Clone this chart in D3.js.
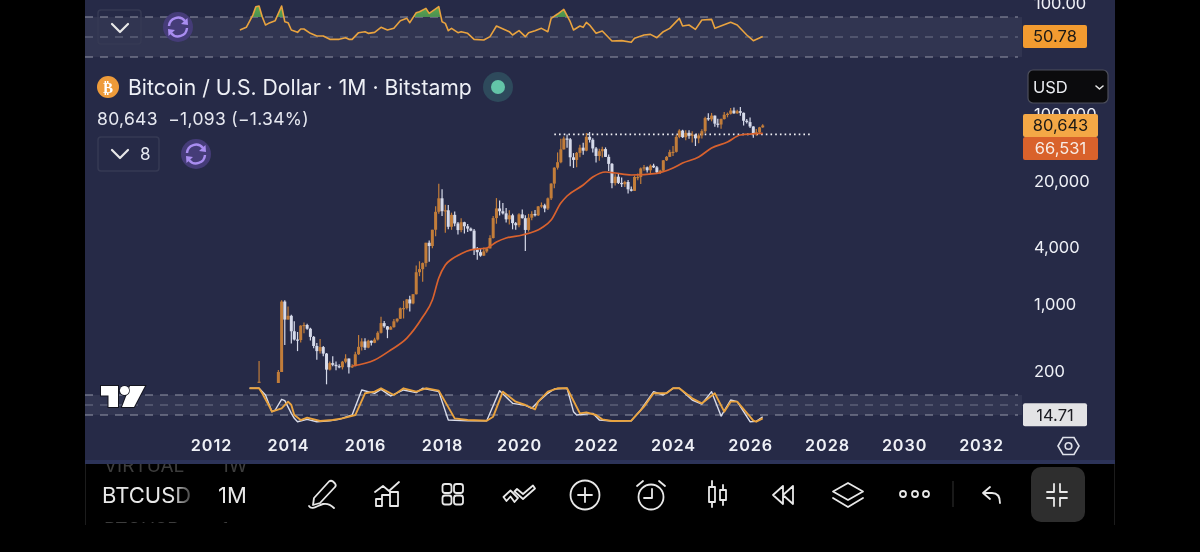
<!DOCTYPE html>
<html>
<head>
<meta charset="utf-8">
<script src="https://cdn.jsdelivr.net/npm/d3@7"></script>
<style>
    html, body { margin: 0; padding: 0; background: #000; }
    svg { display: block; font-family: Inter, "Liberation Sans", sans-serif; filter: blur(0.3px); }
    .axis path, .axis line { display: none; }
    .icon { fill: none; stroke: #e8e8e8; stroke-width: 1.8; stroke-linecap: round; stroke-linejoin: round; }
</style>
</head>
<body>
<svg id="chart" width="1200" height="552"></svg>
<script>
// monthly bars, price values
var candleMonths = [
    '2013-04','2013-10','2013-11','2013-12',
    '2014-01','2014-02','2014-03','2014-04','2014-05','2014-06','2014-07','2014-08','2014-09','2014-10','2014-11','2014-12',
    '2015-01','2015-02','2015-03','2015-04','2015-05','2015-06','2015-07','2015-08','2015-09','2015-10','2015-11','2015-12',
    '2016-01','2016-02','2016-03','2016-04','2016-05','2016-06','2016-07','2016-08','2016-09','2016-10','2016-11','2016-12',
    '2017-01','2017-02','2017-03','2017-04','2017-05','2017-06','2017-07','2017-08','2017-09','2017-10','2017-11','2017-12',
    '2018-01','2018-02','2018-03','2018-04','2018-05','2018-06','2018-07','2018-08','2018-09','2018-10','2018-11','2018-12',
    '2019-01','2019-02','2019-03','2019-04','2019-05','2019-06','2019-07','2019-08','2019-09','2019-10','2019-11','2019-12',
    '2020-01','2020-02','2020-03','2020-04','2020-05','2020-06','2020-07','2020-08','2020-09','2020-10','2020-11','2020-12',
    '2021-01','2021-02','2021-03','2021-04','2021-05','2021-06','2021-07','2021-08','2021-09','2021-10','2021-11','2021-12',
    '2022-01','2022-02','2022-03','2022-04','2022-05','2022-06','2022-07','2022-08','2022-09','2022-10','2022-11','2022-12',
    '2023-01','2023-02','2023-03','2023-04','2023-05','2023-06','2023-07','2023-08','2023-09','2023-10','2023-11','2023-12',
    '2024-01','2024-02','2024-03','2024-04','2024-05','2024-06','2024-07','2024-08','2024-09','2024-10','2024-11','2024-12',
    '2025-01','2025-02','2025-03','2025-04','2025-05','2025-06','2025-07','2025-08','2025-09','2025-10','2025-11','2025-12',
    '2026-01','2026-02','2026-03','2026-04','2026-05'
];
var candleOpen = [
    161,157,205,1130,
    730,800,550,450,445,630,640,585,480,385,340,375,
    320,217,254,244,236,230,263,284,230,236,315,377,
    430,370,437,416,450,530,670,620,572,608,700,745,
    960,965,1190,1080,1350,2300,2480,2870,4700,4340,6440,9950,
    13800,10100,10320,6920,9240,7500,6390,7730,7010,6625,6300,4020,
    3740,3440,3810,4100,5270,8550,10800,10080,9580,8290,9150,7560,
    7190,9350,8525,6410,8620,9450,9135,11340,11650,10780,13800,19700,
    29000,33100,45200,58800,57700,37300,35000,41500,47100,43800,61300,57000,
    46200,38500,43200,45500,37650,31800,19950,23300,20050,19420,20490,17160,
    16540,23130,23140,28470,29250,27210,30470,29230,25930,26970,34650,37720,
    42270,42580,61130,71280,60670,67490,62670,64620,58970,63330,70290,96400,
    93430,102400,84350,82550,94170,104600,107100,115800,108250,114050,109600,90400,
    87500,78700,66900,68200,77000
];
var candleHigh = [
    267,215,1163,1163,
    1000,820,700,540,635,680,660,600,490,415,455,385,
    325,265,300,265,247,268,315,285,247,334,502,465,
    465,448,440,470,550,780,705,625,625,740,755,980,
    1150,1200,1300,1350,2700,3000,2920,4700,4970,6450,11400,19666,
    17200,11800,11700,9750,10000,7770,8500,7800,7400,6800,6550,4230,
    4070,4200,4100,5620,9000,13880,13100,12320,10900,10350,9500,7750,
    9580,10500,9180,9460,10080,10400,11450,12480,12080,14100,19900,29300,
    41950,58350,61780,64890,59500,41300,42400,50500,52900,67000,69000,59100,
    47900,45800,48200,47400,40000,32400,24700,25200,22800,21100,21450,18400,
    23950,25250,29200,31000,29800,31400,31800,30200,27500,35000,38450,44700,
    48950,64000,73800,72700,71950,71950,70000,65600,66500,73600,99800,108300,
    109300,102800,95000,95500,112000,110400,123200,124500,117900,126200,110600,94600,
    97900,79300,74000,78000,83000
];
var candleLow = [
    161,157,205,395,
    730,410,440,340,420,525,570,440,365,275,320,300,
    152,212,235,214,225,218,253,198,226,235,310,345,
    350,365,390,412,440,520,600,465,570,600,680,740,
    750,930,890,1060,1340,2090,1830,2620,2970,4120,5510,9500,
    9000,6000,6500,6430,7000,5750,6070,5880,6100,6200,3500,3120,
    3350,3400,3690,4080,5200,7450,9100,9320,7700,7300,6510,6430,
    6850,8450,3850,6150,8120,8900,8980,10980,9850,10370,13220,17600,
    27700,32300,44950,46950,30000,28800,29300,37400,39600,43300,53300,42000,
    32900,34300,37200,37600,26700,17600,18800,19550,18150,18200,15500,16300,
    16500,21400,19550,26950,25850,24800,28850,25300,24900,26550,34100,37600,
    38500,41900,59100,59600,56500,58400,53500,49000,52500,58900,66800,90500,
    89200,78200,76600,74400,93400,98200,105100,107300,107300,102000,80600,84400,
    75700,60000,63000,65500,76500
];
var candleClose = [
    162,205,1130,730,
    800,550,450,445,630,640,585,480,385,340,375,320,
    217,254,244,236,230,263,284,230,236,315,377,430,
    370,437,416,450,530,670,620,572,608,700,745,960,
    965,1190,1080,1350,2300,2480,2870,4700,4340,6440,9950,13800,
    10100,10320,6920,9240,7500,6390,7730,7010,6625,6300,4020,3740,
    3440,3810,4100,5270,8550,10800,10080,9580,8290,9150,7560,7190,
    9350,8525,6410,8620,9450,9135,11340,11650,10780,13800,19700,29000,
    33100,45200,58800,57700,37300,35000,41500,47100,43800,61300,57000,46200,
    38500,43200,45500,37650,31800,19950,23300,20050,19420,20490,17160,16540,
    23130,23140,28470,29250,27210,30470,29230,25930,26970,34650,37720,42270,
    42580,61130,71280,60670,67490,62670,64620,58970,63330,70290,96400,93430,
    102400,84350,82550,94170,104600,107100,115800,108250,114050,109600,90400,87500,
    78700,66900,68200,77000,80643
];

// moving average, read at the bends of the curve
var maMonths = ['2015-09','2016-04','2016-09','2017-02','2017-07','2017-10','2017-12','2018-02','2018-04','2018-07','2018-10','2019-03','2019-06','2019-09','2020-02','2020-08','2020-11','2021-02','2021-04','2021-09','2021-12','2022-04','2022-07','2022-12','2023-08','2024-01','2024-04','2024-09','2025-01','2025-06','2025-10','2026-05'];
var maValues = [237,274,349,466,777,1173,2000,2742,3150,3600,3950,4140,4786,5272,5672,6716,8162,12320,14600,19060,23120,26120,25480,24280,25300,28760,32460,37560,46730,54020,64000,66531];

// top pane RSI
var rsiMonths = ['2012-10','2012-12','2013-02','2013-03','2013-04','2013-05','2013-06','2013-07','2013-09','2013-11','2013-12','2014-01','2014-02','2014-04','2014-05','2014-06','2014-08','2014-10','2014-12','2015-02','2015-05','2015-07','2015-08','2015-09','2015-11','2016-01','2016-02','2016-04','2016-06','2016-08','2016-10','2016-12','2017-02','2017-03','2017-05','2017-06','2017-08','2017-09','2017-12','2018-01','2018-02','2018-03','2018-04','2018-06','2018-07','2018-09','2018-11','2019-02','2019-04','2019-06','2019-10','2019-11','2020-01','2020-03','2020-04','2020-06','2020-08','2020-10','2020-11','2021-01','2021-03','2021-05','2021-06','2021-08','2021-09','2021-10','2021-11','2022-01','2022-03','2022-06','2022-09','2022-12','2023-01','2023-04','2023-06','2023-08','2023-10','2023-12','2024-03','2024-04','2024-06','2024-08','2024-10','2025-01','2025-02','2025-07','2025-09','2025-12','2026-02','2026-05'];
var rsiValues = [60.5,64.5,83,95.5,96.5,80.5,68,70.5,74.5,96.5,73,71.5,60.5,57,62,62,55.5,51.5,51.5,46.5,46.5,49,46.5,46.5,56.5,58,55.5,57,64.5,60.5,63,74.5,78,71.5,86.5,88,93,85.5,95.5,73,70.5,59.5,63,56.5,58,55.5,46.5,45.5,50.5,66.5,58,53,59.5,50.5,56.5,59.5,63,58,78,84.5,91.5,73,60.5,66.5,64.5,72,68,55.5,59,44,44.5,42,48,53,54,49,58,63,78,66.5,68,61.5,75.5,76.5,63,72,68,53,44.5,50.78];

// bottom pane stochastic
var kMonths = ['2013-01','2013-04','2013-06','2013-08','2013-09','2013-11','2013-12','2014-02','2014-03','2014-04','2014-07','2014-10','2015-02','2015-05','2015-09','2015-12','2016-04','2016-06','2016-09','2017-01','2017-05','2017-07','2017-12','2018-03','2018-09','2019-03','2019-07','2019-11','2020-03','2020-05','2020-07','2020-10','2020-12','2021-04','2021-06','2021-07','2021-12','2022-02','2022-06','2022-12','2023-03','2023-07','2023-10','2024-01','2024-03','2024-07','2024-10','2025-01','2025-04','2025-07','2025-09','2026-01','2026-03','2026-05'];
var kValues = [100,100,80,30,35,67,63,25,10,0,7,0,3,7,20,95,85,97,77,95,87,100,90,5,3,3,93,55,49,40,60,85,98,100,30,20,25,5,2,3,35,90,80,100,100,65,53,90,17,65,60,0,1,14.71];
var dMonths = ['2013-01','2013-04','2013-05','2013-07','2013-08','2013-11','2014-01','2014-02','2014-03','2014-05','2014-07','2014-11','2015-03','2015-06','2015-10','2016-01','2016-04','2016-06','2016-10','2017-01','2017-05','2017-08','2017-12','2018-05','2018-09','2019-03','2019-05','2019-08','2019-12','2020-03','2020-06','2020-07','2020-10','2021-01','2021-04','2021-08','2021-10','2022-01','2022-03','2022-06','2022-12','2023-04','2023-07','2023-11','2024-01','2024-03','2024-07','2024-10','2025-02','2025-05','2025-07','2025-09','2026-02','2026-03','2026-05'];
var dValues = [100,100,85,50,30,40,60,50,20,5,12,2,5,10,20,85,90,100,80,100,90,100,93,10,5,3,15,90,60,50,37,60,90,100,100,25,28,20,7,2,3,45,85,85,100,100,70,55,85,30,60,60,3,0,10];

var priceTicks = [200, 1000, 4000, 20000, 100000];
var yearTicks = ['2012','2014','2016','2018','2020','2022','2024','2026','2028','2030','2032'];
var resistance = 65000;
var resistanceMonths = ['2020-12', '2027-08'];
var lastPrice = 80643;
var lastMa = 66531;
var lastRsi = 50.78;
var lastStoch = 14.71;

var svg = d3.select('#chart');
var parseMonth = d3.timeParse('%Y-%m');
var parseYear = d3.timeParse('%Y');

var bg = '#262a47';
var upColor = '#c27d3a';
var downColor = '#d6daea';
var rsiColor = '#e9a33f';

var x = d3.scaleTime().domain([parseYear('2012'), parseYear('2032')]).range([211, 981]);
var y = d3.scaleLog().domain([200, 20000]).range([373, 183]);
var rsiY = d3.scaleLinear().domain([50, 100]).range([37, 3.7]);
var stochY = d3.scaleLinear().domain([0, 100]).range([421.7, 388.3]);

var candles = candleMonths.map(function (m, i) {
    return { date: parseMonth(m), open: candleOpen[i], high: candleHigh[i], low: candleLow[i], close: candleClose[i] };
});
function zipSeries(months, values) {
    return months.map(function (m, i) {
        return { date: parseMonth(m), value: values[i] };
    });
}

// panel background and the black phone bezel
svg.append('rect').attr('width', 1200).attr('height', 552).attr('fill', '#000');
svg.append('rect').attr('x', 85).attr('width', 1030).attr('height', 464).attr('fill', bg);
svg.append('rect').attr('x', 85).attr('y', 460).attr('width', 1030).attr('height', 4).attr('fill', '#2c3358');

function drawBand(scale, hi, mid, lo) {
    svg.append('rect')
        .attr('x', 85).attr('width', 937)
        .attr('y', scale(hi)).attr('height', scale(lo) - scale(hi))
        .attr('fill', '#ffffff').attr('opacity', 0.055);
    [hi, mid, lo].forEach(function (v) {
        svg.append('line')
            .attr('x1', 85).attr('x2', 1018)
            .attr('y1', scale(v)).attr('y2', scale(v))
            .attr('stroke', '#a6a8ba')
            .attr('stroke-opacity', v === mid ? 0.55 : 0.85)
            .attr('stroke-width', 1.2)
            .attr('stroke-dasharray', '8 7');
    });
}
drawBand(rsiY, 80, 50, 20);
drawBand(stochY, 80, 50, 20);

// RSI pane
var rsiData = zipSeries(rsiMonths, rsiValues);
var defs = svg.append('defs');
var grad = defs.append('linearGradient').attr('id', 'rsi-green').attr('x1', 0).attr('x2', 0).attr('y1', 0).attr('y2', 1);
grad.append('stop').attr('offset', '0%').attr('stop-color', '#5fae4e');
grad.append('stop').attr('offset', '100%').attr('stop-color', '#2f7a5c').attr('stop-opacity', 0.55);
defs.append('clipPath').attr('id', 'rsi-clip').append('rect')
    .attr('x', 85).attr('width', 937).attr('y', 0).attr('height', rsiY(80));
defs.append('clipPath').attr('id', 'row-clip').append('rect')
    .attr('x', 85).attr('width', 200).attr('y', 464).attr('height', 59);
var fade = defs.append('linearGradient').attr('id', 'name-fade');
fade.append('stop').attr('offset', '0%').attr('stop-color', '#000').attr('stop-opacity', 0);
fade.append('stop').attr('offset', '100%').attr('stop-color', '#000').attr('stop-opacity', 0.85);

svg.append('path')
    .datum(rsiData)
    .attr('clip-path', 'url(#rsi-clip)')
    .attr('fill', 'url(#rsi-green)')
    .attr('d', d3.area()
        .x(function (d) { return x(d.date); })
        .y0(rsiY(80))
        .y1(function (d) { return rsiY(d.value); }));
svg.append('path')
    .datum(rsiData)
    .attr('fill', 'none')
    .attr('stroke', rsiColor)
    .attr('stroke-width', 1.6)
    .attr('stroke-linejoin', 'round')
    .attr('d', d3.line()
        .x(function (d) { return x(d.date); })
        .y(function (d) { return rsiY(d.value); }));

// resistance line
svg.append('line')
    .attr('x1', x(parseMonth(resistanceMonths[0])))
    .attr('x2', x(parseMonth(resistanceMonths[1])))
    .attr('y1', y(resistance)).attr('y2', y(resistance))
    .attr('stroke', '#f2f2f6')
    .attr('stroke-width', 1.6)
    .attr('stroke-dasharray', '1.6 3.1');

// candles
var candleWidth = 3;
svg.append('g').selectAll('line')
    .data(candles)
    .enter()
    .append('line')
    .attr('x1', function (d) { return x(d.date); })
    .attr('x2', function (d) { return x(d.date); })
    .attr('y1', function (d) { return y(d.high); })
    .attr('y2', function (d) { return y(d.low); })
    .attr('stroke', function (d) { return d.close >= d.open ? upColor : downColor; })
    .attr('stroke-width', 1.2);
svg.append('g').selectAll('rect')
    .data(candles)
    .enter()
    .append('rect')
    .attr('x', function (d) { return x(d.date) - candleWidth / 2; })
    .attr('width', candleWidth)
    .attr('y', function (d) { return y(Math.max(d.open, d.close)); })
    .attr('height', function (d) { return Math.max(1.2, Math.abs(y(d.open) - y(d.close))); })
    .attr('fill', function (d) { return d.close >= d.open ? upColor : downColor; });

// moving average
svg.append('path')
    .datum(zipSeries(maMonths, maValues))
    .attr('fill', 'none')
    .attr('stroke', '#d9622e')
    .attr('stroke-width', 1.7)
    .attr('d', d3.line()
        .curve(d3.curveMonotoneX)
        .x(function (d) { return x(d.date); })
        .y(function (d) { return y(d.value); }));

// stochastic pane
function drawStoch(months, values, color, width) {
    svg.append('path')
        .datum(zipSeries(months, values))
        .attr('fill', 'none')
        .attr('stroke', color)
        .attr('stroke-width', width)
        .attr('stroke-linejoin', 'round')
        .attr('d', d3.line()
            .x(function (d) { return x(d.date); })
            .y(function (d) { return stochY(d.value); }));
}
drawStoch(kMonths, kValues, '#d9dcea', 1.4);
drawStoch(dMonths, dValues, rsiColor, 1.9);

// axes
var xAxis = svg.append('g')
    .attr('class', 'axis')
    .attr('transform', 'translate(0,439)')
    .call(d3.axisBottom(x)
        .tickValues(yearTicks.map(function (t) { return parseYear(t); }))
        .tickFormat(d3.timeFormat('%Y'))
        .tickSize(0).tickPadding(0));
xAxis.selectAll('text')
    .attr('fill', '#eef0f6').attr('font-size', 16.2).attr('font-weight', 600)
    .attr('letter-spacing', 0.9).attr('font-family', 'Inter');

var yAxis = svg.append('g')
    .attr('class', 'axis')
    .attr('transform', 'translate(1034,-2)')
    .call(d3.axisRight(y)
        .tickValues(priceTicks)
        .tickFormat(d3.format(','))
        .tickSize(0).tickPadding(0));
yAxis.selectAll('text')
    .attr('fill', '#eef0f6').attr('font-size', 16.5).attr('font-family', 'Inter');

var rsiAxis = svg.append('g')
    .attr('class', 'axis')
    .attr('transform', 'translate(1034,0)')
    .call(d3.axisRight(rsiY)
        .tickValues([100])
        .tickFormat(d3.format('.2f'))
        .tickSize(0).tickPadding(0));
rsiAxis.selectAll('text')
    .attr('fill', '#eef0f6').attr('font-size', 16.5).attr('font-family', 'Inter');

// last value tags
function tag(left, width, cy, fill, color, label) {
    svg.append('rect')
        .attr('x', left).attr('y', cy - 11.5)
        .attr('width', width).attr('height', 23)
        .attr('rx', 2).attr('fill', fill);
    svg.append('text')
        .attr('x', left + width / 2).attr('y', cy + 6)
        .attr('text-anchor', 'middle')
        .attr('font-size', 16.5)
        .attr('fill', color)
        .text(label);
}
tag(1023, 75, y(lastPrice), '#f4a846', '#1c1a16', d3.format(',')(lastPrice));
tag(1023, 75, y(lastPrice) + 23, '#d9622b', '#f7ece4', d3.format(',')(lastMa));
tag(1023, 64, rsiY(lastRsi), '#f29b30', '#1c1a16', lastRsi.toFixed(2));
tag(1023, 64, stochY(lastStoch) - 2, '#e3e3e5', '#1c1c22', lastStoch.toFixed(2));

// legend texts
svg.append('circle').attr('cx', 108).attr('cy', 87).attr('r', 11).attr('fill', '#ee9b3a');
svg.append('text').attr('x', 108).attr('y', 92.5).attr('text-anchor', 'middle')
    .attr('font-size', 15).attr('font-weight', 700).attr('fill', '#fff')
    .attr('font-family', 'DejaVu Sans').text('\u20BF');
svg.append('text').attr('x', 128).attr('y', 94.5)
    .attr('font-size', 21.2).attr('fill', '#eef0f6')
    .text('Bitcoin / U.S. Dollar \u00B7 1M \u00B7 Bitstamp');
svg.append('circle').attr('cx', 498).attr('cy', 87).attr('r', 15).attr('fill', '#2e4a5c');
svg.append('circle').attr('cx', 498).attr('cy', 87).attr('r', 7).attr('fill', '#63c5a8');
svg.append('text').attr('x', 97).attr('y', 125)
    .attr('font-size', 17.5).attr('letter-spacing', 0.3).attr('fill', '#e6e8f0')
    .text('80,643 \u00A0\u22121,093 (\u22121.34%)');

function toggleBox(left, top, width, height) {
    svg.append('rect')
        .attr('x', left).attr('y', top).attr('width', width).attr('height', height)
        .attr('rx', 3).attr('fill', 'none').attr('stroke', '#363a54').attr('stroke-width', 1.5);
}
function chevron(cx, cy) {
    svg.append('path').attr('class', 'icon').style('stroke-width', 2.2)
        .attr('transform', 'translate(' + cx + ',' + cy + ')')
        .attr('d', 'M-8,-4 L0,4 L8,-4');
}
function syncIcon(cx, cy) {
    var g = svg.append('g').attr('transform', 'translate(' + cx + ',' + cy + ')');
    g.append('circle').attr('r', 15).attr('fill', '#453c78');
    g.append('path').attr('fill', 'none').attr('stroke', '#a98df0').attr('stroke-width', 2.4)
        .attr('d', 'M-9,-1 A9,9 0 0 1 7,-6 M9,1 A9,9 0 0 1 -7,6');
    g.append('path').attr('fill', '#a98df0').attr('d', 'M3,-3 L10,-2 L9.5,-9 Z M-3,3 L-10,2 L-9.5,9 Z');
}
toggleBox(98, 10, 43, 34);
chevron(120, 28);
syncIcon(178, 27);
toggleBox(98, 137, 61, 34);
chevron(120, 154);
svg.append('text').attr('x', 140).attr('y', 160).attr('font-size', 17).attr('fill', '#e6e8f0').text('8');
syncIcon(196, 154);

// USD box
svg.append('rect').attr('x', 1028).attr('y', 70).attr('width', 80).attr('height', 33)
    .attr('rx', 5).attr('fill', '#0b0b0d').attr('stroke', '#4d4f5c').attr('stroke-width', 1.2);
svg.append('text').attr('x', 1033).attr('y', 92.5).attr('font-size', 16.5).attr('fill', '#eceef2').text('USD');
svg.append('path').attr('class', 'icon').style('stroke-width', 1.6).attr('d', 'M1096,86 L1099.5,89 L1103,86');

// settings hexagon
svg.append('path').attr('fill', 'none').attr('stroke', '#dfe1ea').attr('stroke-width', 1.6)
    .attr('d', 'M1058,446 L1063,437.5 L1074,437.5 L1079,446 L1074,454.5 L1063,454.5 Z');
svg.append('circle').attr('cx', 1068.5).attr('cy', 446).attr('r', 3.3)
    .attr('fill', 'none').attr('stroke', '#dfe1ea').attr('stroke-width', 1.6);

// tradingview mark
var logo = svg.append('g');
logo.append('path').attr('fill', '#fff').attr('stroke', '#14151f').attr('stroke-width', 2).attr('paint-order', 'stroke')
    .attr('d', 'M101,386 H118 V407 H108.5 V395.5 H101 Z M130,386 H145 L134,407 H122 Z');
logo.append('circle').attr('cx', 124.5).attr('cy', 390.5).attr('r', 4.6).attr('fill', '#fff')
    .attr('stroke', '#14151f').attr('stroke-width', 1.5).attr('paint-order', 'stroke');

// bottom toolbar
svg.append('line').attr('x1', 85.5).attr('x2', 85.5).attr('y1', 464).attr('y2', 525).attr('stroke', '#1c1c1c');
svg.append('line').attr('x1', 1114.5).attr('x2', 1114.5).attr('y1', 464).attr('y2', 525).attr('stroke', '#1c1c1c');
var dim = svg.append('g').attr('fill', '#3d3d3d').attr('font-size', 19).attr('clip-path', 'url(#row-clip)');
dim.append('text').attr('x', 104).attr('y', 472).text('VIRTUAL');
dim.append('text').attr('x', 221).attr('y', 472).text('1W');
dim.append('text').attr('x', 104).attr('y', 536).text('BTCUSD');
dim.append('text').attr('x', 221).attr('y', 536).text('1m');
svg.append('text').attr('x', 102).attr('y', 503).attr('font-size', 22).attr('fill', '#e8e8e8').text('BTCUSD');
svg.append('text').attr('x', 218).attr('y', 503).attr('font-size', 22).attr('fill', '#e8e8e8').text('1M');
svg.append('rect').attr('x', 172).attr('y', 484).attr('width', 22).attr('height', 24).attr('fill', 'url(#name-fade)');

svg.append('rect').attr('x', 1031).attr('y', 467).attr('width', 54).attr('height', 55).attr('rx', 10).attr('fill', '#2e2e2e');
svg.append('line').attr('x1', 953).attr('x2', 953).attr('y1', 481).attr('y2', 507).attr('stroke', '#333');

var icons = svg.append('g').attr('class', 'icon');
icons.append('path').attr('d', 'M314,498 L329,481.5 Q331,480 333,481.5 L335,483.5 Q336.5,485.5 335,487 L320,503 L313,505 Z M309,506 C312,511 318,505 323,504 C328,503 331,505 334,508');
icons.append('path').attr('d', 'M375,492 L383,486 L389,491 L399,482 M376,506 V499 H382 V506 Z M382,506 V495 H390 V506 M390,506 V492 H398 V506 Z');
[[442.5, 484], [454, 484], [442.5, 495.5], [454, 495.5]].forEach(function (p) {
    icons.append('rect').attr('x', p[0]).attr('y', p[1]).attr('width', 9).attr('height', 9).attr('rx', 2.5);
});
icons.append('path').attr('d', 'M503.5,497 L510.5,490.5 L518,498 L514.5,502 L510.5,496.5 L506.5,501 Z M517,489 L523,494 L533,485.5 L535,488.5 L523,499 L514.5,491.5 Z');
icons.append('circle').attr('cx', 585).attr('cy', 495).attr('r', 14.5);
icons.append('path').attr('d', 'M585,488 V502 M578,495 H592');
icons.append('circle').attr('cx', 651).attr('cy', 497).attr('r', 12.5);
icons.append('path').attr('d', 'M637,486 L643,481 M665,486 L659,481 M652,489 V498 H644');
icons.append('rect').attr('x', 709).attr('y', 487).attr('width', 6).attr('height', 15);
icons.append('path').attr('d', 'M712,481 V487 M712,502 V507 M723,485 V490 M723,500 V505');
icons.append('rect').attr('x', 720).attr('y', 490).attr('width', 6).attr('height', 10);
icons.append('path').attr('d', 'M783,486 L773,495 L783,504 Z M793,486 L783,495 L793,504 Z');
icons.append('path').attr('d', 'M848,483 L863,491.5 L848,500 L833,491.5 Z M833,498 L848,507 L863,498');
[903, 915, 926].forEach(function (cx) {
    icons.append('circle').attr('cx', cx).attr('cy', 494).attr('r', 3);
});
icons.append('path').attr('d', 'M990,487 L983,493 L990,499 M983,493 H992 Q1000,493 1000,503');
icons.append('path').attr('d', 'M1047,492 H1054 V484 M1060,484 V492 H1067 M1047,498 H1054 V506 M1060,506 V498 H1067');
</script>
</body>
</html>
